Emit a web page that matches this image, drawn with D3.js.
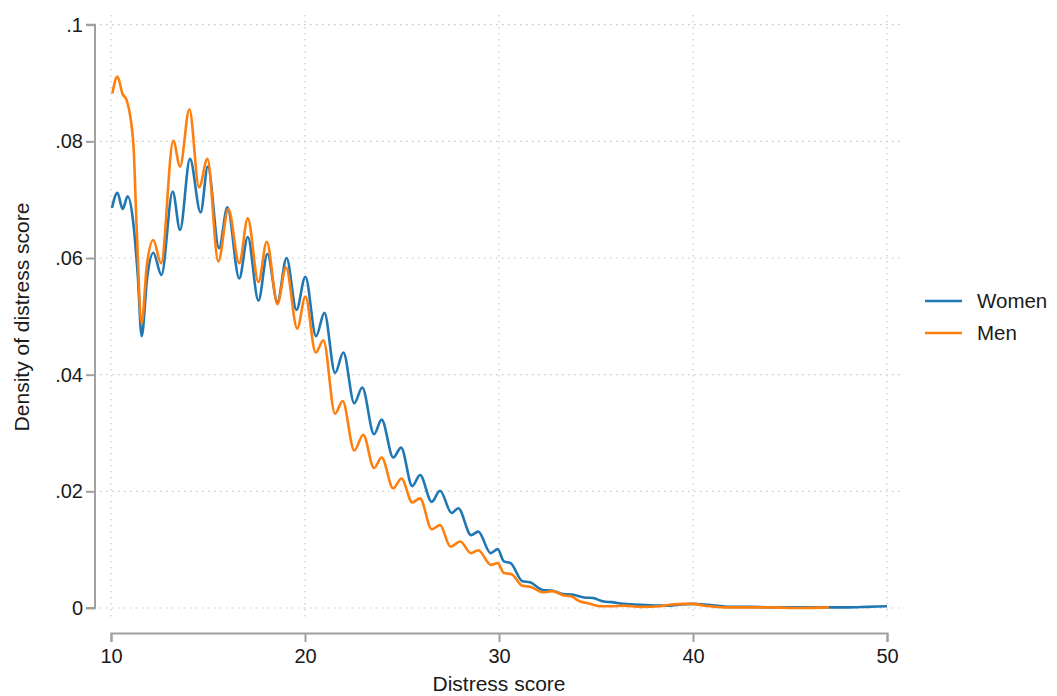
<!DOCTYPE html>
<html>
<head>
<meta charset="utf-8">
<script src="https://cdn.jsdelivr.net/npm/d3@7"></script>
<style>
  html, body { margin: 0; padding: 0; background: #fff; }
  svg { display: block; font-family: "Liberation Sans", Arial, sans-serif; }
</style>
</head>
<body>
<svg id="chart" width="1057" height="696"></svg>
<script>
// ---- data ----
const womenX = [10.05, 10.33, 10.6, 10.86, 11.15, 11.38, 11.58, 11.87, 12.18, 12.6, 13.18, 13.56, 14.07, 14.62, 14.99,
  15.57, 16.0, 16.61, 17.05, 17.6, 18.06, 18.58, 19.05, 19.56, 20.02, 20.57, 21.0, 21.55, 21.98, 22.54, 22.95,
  23.56, 23.95, 24.55, 24.95, 25.53, 25.93, 26.53, 26.96, 27.56, 27.9, 28.56, 28.93, 29.57, 29.93,
  30.25, 30.6, 31.2, 31.6, 32.25, 32.7, 33.3, 33.75, 34.4, 34.85, 35.4, 35.8, 36.4, 37.0, 37.6, 38.2, 38.8,
  39.4, 40.0, 40.6, 41.2, 41.8, 43, 44, 45, 46, 47, 48, 49, 50];
const womenY = [0.0686, 0.0712, 0.0684, 0.0706, 0.0660, 0.0570, 0.0466, 0.0568, 0.0609, 0.0571, 0.0714, 0.0648, 0.0770, 0.0678, 0.0757,
  0.0617, 0.0687, 0.0565, 0.0636, 0.0527, 0.0607, 0.0525, 0.0600, 0.0511, 0.0568, 0.0466, 0.0506, 0.0403, 0.0438, 0.0351, 0.0378,
  0.0298, 0.0323, 0.0258, 0.0275, 0.0209, 0.0228, 0.0182, 0.0201, 0.0163, 0.0171, 0.0125, 0.0131, 0.0094, 0.0101,
  0.0080, 0.0077, 0.0046, 0.0044, 0.0031, 0.0030, 0.0024, 0.0023, 0.0018, 0.0017, 0.0011, 0.0010, 0.0007, 0.0006, 0.0005, 0.0004, 0.0004,
  0.0006, 0.0007, 0.0006, 0.0004, 0.0002, 0.0002, 0.0001, 0.0001, 0.0001, 0.0001, 0.0001, 0.0002, 0.0003];

const menX = [10.07, 10.33, 10.6, 10.8, 11.15, 11.32, 11.58, 11.84, 12.18, 12.58, 13.21, 13.56, 14.04, 14.54, 14.97,
  15.53, 16.05, 16.61, 17.05, 17.6, 18.03, 18.58, 19.02, 19.6, 20.02, 20.55, 20.95, 21.55, 21.94, 22.54, 23.0,
  23.56, 23.95, 24.55, 24.97, 25.53, 25.93, 26.53, 26.96, 27.5, 28.0, 28.56, 28.93, 29.59, 29.93,
  30.25, 30.65, 31.2, 31.65, 32.25, 32.75, 33.3, 33.7, 34.2, 34.6, 35.2, 35.8, 36.4, 37.3, 38.3, 38.9,
  39.5, 40.0, 40.6, 41.2, 41.6, 42.5, 44, 45.5, 47];
const menY = [0.0882, 0.0911, 0.0881, 0.0871, 0.0797, 0.0654, 0.0488, 0.0585, 0.0631, 0.0591, 0.0801, 0.0757, 0.0855, 0.0721, 0.0770,
  0.0594, 0.0684, 0.0591, 0.0668, 0.0559, 0.0628, 0.0521, 0.0584, 0.0479, 0.0534, 0.0438, 0.0459, 0.0333, 0.0355, 0.0270, 0.0297,
  0.0240, 0.0258, 0.0205, 0.0222, 0.0181, 0.0188, 0.0135, 0.0142, 0.0105, 0.0114, 0.0094, 0.0099, 0.0074, 0.0077,
  0.0060, 0.0058, 0.0038, 0.0036, 0.0027, 0.0029, 0.0022, 0.0020, 0.0011, 0.0008, 0.0003, 0.0003, 0.0004, 0.0002, 0.0003, 0.0006,
  0.0007, 0.0007, 0.0004, 0.0002, 0.0001, 0.0001, 0.0001, 0.0000, 0.0001];

const xTicks = [10, 20, 30, 40, 50];
const yTicks = [0, 0.02, 0.04, 0.06, 0.08, 0.1];
const yTickLabels = ["0", ".02", ".04", ".06", ".08", ".1"];
const seriesNames = ["Women", "Men"];
const seriesColors = ["#1f77b4", "#ff7f0e"];
const xTitle = "Distress score";
const yTitle = "Density of distress score";

// ---- layout ----
const svg = d3.select("#chart");
const x = d3.scaleLinear().domain([10, 50]).range([111, 887]);
const y = d3.scaleLinear().domain([0, 0.1]).range([608, 24.7]);
const plotL = 100, plotR = 900, plotT = 15, plotB = 621;
const axisColor = "#a0a0a0";
const textColor = "#1a1a1a";

// grid
const grid = svg.append("g");
grid.selectAll("line.h").data(yTicks).join("line")
  .attr("x1", plotL).attr("x2", plotR)
  .attr("y1", d => y(d)).attr("y2", d => y(d))
  .attr("stroke", "#c8c8c8").attr("stroke-width", 1.2).attr("stroke-dasharray", "1.5,4.5");
grid.selectAll("line.v").data(xTicks).join("line")
  .attr("y1", plotT).attr("y2", plotB)
  .attr("x1", d => x(d)).attr("x2", d => x(d))
  .attr("stroke", "#c8c8c8").attr("stroke-width", 1.2).attr("stroke-dasharray", "1.5,4.5");

// y axis
const yAxis = d3.axisLeft(y).tickValues(yTicks)
  .tickFormat((d, i) => yTickLabels[i]).tickSize(9).tickPadding(3);
const gy = svg.append("g").attr("transform", "translate(95,0)").call(yAxis);
gy.select(".domain").attr("stroke", axisColor).attr("stroke-width", 2).attr("d", `M-9,${y(0)}H0V${y(0.1)}H-9`);
gy.selectAll(".tick line").attr("stroke", axisColor).attr("stroke-width", 2);
gy.selectAll(".tick text").attr("font-size", 20).attr("fill", textColor)
  .attr("font-family", "Liberation Sans, Arial, sans-serif");

// x axis
const xAxis = d3.axisBottom(x).tickValues(xTicks).tickFormat(d3.format("d")).tickSize(9).tickPadding(7);
const gx = svg.append("g").attr("transform", "translate(0,633)").call(xAxis);
gx.select(".domain").attr("stroke", axisColor).attr("stroke-width", 2);
gx.selectAll(".tick line").attr("stroke", axisColor).attr("stroke-width", 2);
gx.selectAll(".tick text").attr("font-size", 20).attr("fill", textColor)
  .attr("font-family", "Liberation Sans, Arial, sans-serif");

// titles
svg.append("text").attr("x", 499).attr("y", 691).attr("text-anchor", "middle")
  .attr("font-size", 21).attr("fill", textColor).text(xTitle);
svg.append("text").attr("transform", "translate(29,317) rotate(-90)").attr("text-anchor", "middle")
  .attr("font-size", 21).attr("fill", textColor).text(yTitle);

// lines
const series = [
  womenX.map((v, i) => [v, womenY[i]]),
  menX.map((v, i) => [v, menY[i]])
];
const line = d3.line().x(d => x(d[0])).y(d => y(d[1])).curve(d3.curveMonotoneX);
svg.append("g").selectAll("path").data(series).join("path")
  .attr("d", line).attr("fill", "none")
  .attr("stroke", (d, i) => seriesColors[i]).attr("stroke-width", 2.6)
  .attr("stroke-linejoin", "round");

// legend
const leg = svg.append("g");
seriesNames.forEach((name, i) => {
  const ly = 301 + i * 32;
  leg.append("line").attr("x1", 925).attr("x2", 962).attr("y1", ly).attr("y2", ly)
    .attr("stroke", seriesColors[i]).attr("stroke-width", 2.6);
  leg.append("text").attr("x", 977).attr("y", ly + 7).attr("font-size", 20.5).attr("fill", textColor).text(name);
});
</script>
</body>
</html>
